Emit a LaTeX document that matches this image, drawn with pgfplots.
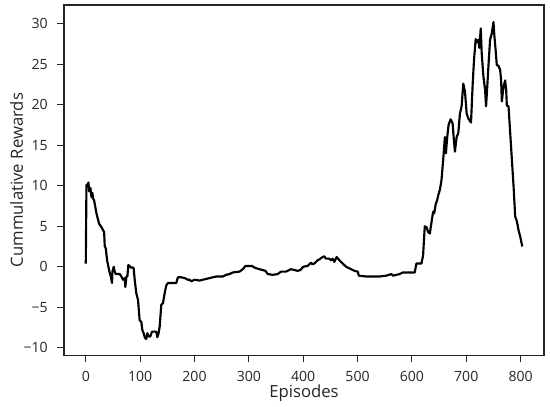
\documentclass[border=0pt]{standalone}
\usepackage{pgfplots}
\pgfplotsset{compat=1.18}
\usepackage{fontspec}
\setmainfont{Open Sans}
\begin{document}
\begin{tikzpicture}
\begin{axis}[
  scale only axis,
  width=402.2pt, height=293.3pt,
  xmin=-40.15, xmax=843.15,
  ymin=-10.9, ymax=32.3,
  axis line style={black!85, line width=0.9pt},
  tick style={black!85, line width=0.9pt},
  major tick length=5.9pt,
  tick align=outside,
  xtick pos=bottom, ytick pos=left,
  xtick={0,100,...,800},
  ytick={-10,-5,0,5,10,15,20,25,30},
  yticklabels={−10,−5,0,5,10,15,20,25,30},
  /pgf/number format/assume math mode=true,
  ticklabel style={font=\fontsize{11.8pt}{13.5pt}\selectfont, text=black!85},
  xticklabel style={anchor=base, inner sep=0pt, yshift=-16.6pt},
  yticklabel style={anchor=east, inner sep=0pt, xshift=-7.5pt},
  xlabel={Episodes},
  ylabel={Cummulative Rewards},
  label style={font=\fontsize{14pt}{16pt}\selectfont, text=black!85},
  xlabel style={at={(axis description cs:0.5,-0.121)}, anchor=base, inner sep=0pt},
  ylabel style={at={(axis description cs:-0.0854,0.5)}, anchor=base, inner sep=0pt},
  clip=false,
]
\addplot[black, line width=1.8pt, line join=round] coordinates {
(0,0.4) (1.2,10.1) (2.4,9.9) (4.9,10.4) (6.1,9.3) (8.6,9.7) (10.4,8.6) (12.2,9.1)
(13.5,8.4) (15.3,8.2) (19.6,6.6) (24.5,5.3) (28.8,4.9) (31.8,4.5) (33.7,4.3)
(34.9,2.5) (36.7,2.3) (39.2,0.8) (42.8,-0.4) (45.9,-1.2) (48.3,-2.0) (49.0,-0.6)
(51.4,0.0) (53.2,-0.6) (55.1,-0.9) (62.4,-0.9) (65.5,-1.2) (68.5,-1.6) (71.6,-1.4)
(72.8,-2.5) (74.7,-1.2) (76.5,-1.2) (78.3,0.2) (80.8,0.1) (82.6,-0.1) (86.9,-0.1)
(88.1,-0.2) (90.0,-1.6) (93.0,-3.3) (96.1,-4.1) (99.1,-6.6) (102.2,-6.8) (104.0,-7.8)
(106.5,-8.2) (108.9,-8.8) (111.4,-8.9) (113.2,-8.2) (115.7,-8.6) (118.7,-8.6)
(121.8,-8.0) (129.7,-8.0) (131.6,-8.7) (134.0,-8.2) (135.9,-7.4) (138.9,-4.7)
(142.0,-4.5) (145.0,-3.3) (148.1,-2.3) (151.2,-2.0) (160.3,-2.0) (166.5,-2.0)
(169.5,-1.3) (175.6,-1.3) (181.8,-1.4) (187.9,-1.6) (190.9,-1.6) (194.0,-1.8)
(200.1,-1.6) (209.3,-1.7) (215.4,-1.6) (227.7,-1.4) (239.9,-1.2) (252.1,-1.2)
(258.3,-1.0) (264.4,-0.9) (270.5,-0.7) (282.7,-0.6) (288.9,-0.3) (293.8,0.1)
(306.0,0.1) (310.3,-0.1) (319.5,-0.3) (330.5,-0.5) (334.8,-0.9) (344.0,-1.0)
(353.1,-0.9) (359.2,-0.6) (368.4,-0.6) (377.6,-0.3) (389.8,-0.5) (395.0,-0.4)
(400.0,0.0) (408.0,0.1) (411.1,0.3) (414.2,0.5) (417.3,0.3) (420.3,0.4) (423.4,0.6)
(426.5,0.8) (429.6,0.9) (435.7,1.2) (438.8,1.3) (441.9,1.0) (448.1,1.0) (451.2,0.8)
(454.2,1.0) (457.3,0.6) (461.6,1.2) (466.6,0.8) (472.7,0.4) (478.9,0.0) (485.1,-0.2)
(494.3,-0.5) (500.5,-0.6) (502.3,-1.1) (515.9,-1.2) (528.2,-1.2) (540.5,-1.2)
(552.9,-1.1) (562.1,-0.9) (565.2,-1.1) (577.5,-0.9) (583.7,-0.7) (605.2,-0.7)
(608.3,0.4) (617.6,0.4) (620.6,1.4) (623.7,5.0) (626.8,4.9) (629.9,4.3) (633.0,4.1)
(636.1,5.5) (639.1,6.8) (641.0,6.6) (644.1,7.8) (646.5,8.2) (648.4,8.8) (651.5,9.5)
(654.5,10.7) (657.6,13.2) (660.7,16.0) (662.6,14.0) (665.0,16.0) (667.5,17.5)
(671.2,18.2) (674.9,17.7) (677.3,15.6) (679.2,14.2) (682.3,16.0) (685.4,16.5)
(688.4,18.9) (691.5,19.8) (694.6,22.6) (697.7,21.6) (700.8,18.9) (703.8,18.3)
(708.8,17.8) (711.9,22.6) (714.3,25.5) (717.4,28.1) (719.3,27.7) (722.3,28.0)
(724.2,27.0) (726.7,29.4) (728.5,26.3) (731.6,23.5) (734.7,21.8) (736.5,19.8)
(739.0,22.6) (741.5,25.5) (743.9,28.0) (747.0,28.8) (750.1,30.2) (751.9,28.4)
(754.4,26.5) (756.2,24.9) (759.3,24.8) (762.4,24.3) (764.2,23.0) (765.5,20.4)
(768.6,22.2) (771.6,23.0) (773.5,21.8) (774.7,19.9) (777.8,19.8) (780.9,16.5)
(784.0,13.2) (787.1,9.9) (790.1,6.2) (793.2,5.6) (796.3,4.5) (799.4,3.7) (803.1,2.5)
};
\end{axis}
\path ([shift={(-53.6pt,-42.7pt)}]current axis.south west) rectangle ([shift={(5.0pt,4.2pt)}]current axis.north east);
\end{tikzpicture}
\end{document}
